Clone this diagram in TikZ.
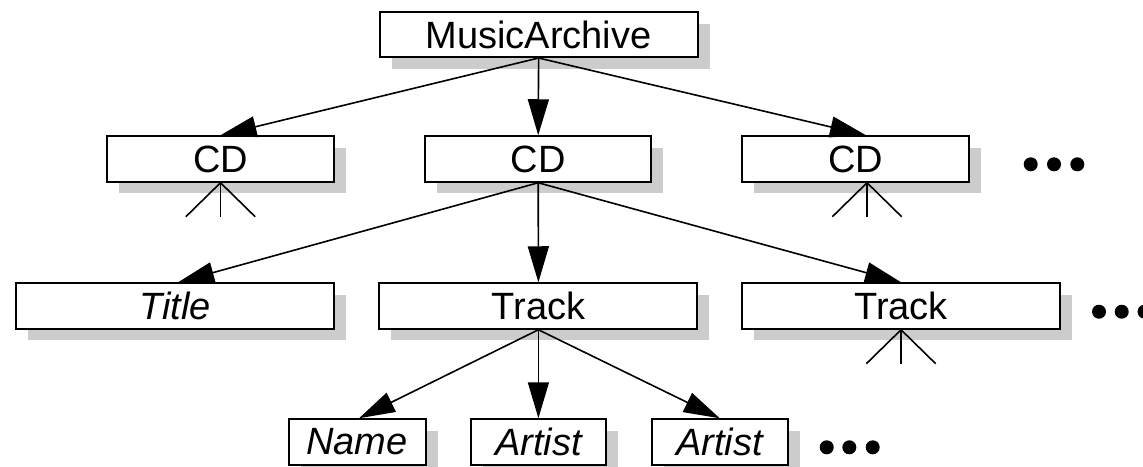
\documentclass[tikz,border=0pt]{standalone}
\usepackage{fontspec}
\setmainfont{Liberation Sans}
\usetikzlibrary{arrows.meta,shadows}
\begin{document}
\begin{tikzpicture}[x=0.5pt,y=-0.5pt,
  box/.style={draw=black, line width=1pt, fill=white, inner sep=0pt,
    minimum height=22.75pt, font=\fontsize{19pt}{22pt}\selectfont,
    drop shadow={shadow xshift=6pt, shadow yshift=-5.75pt, fill=black!20, opacity=1}},
  conn/.style={line width=0.8pt, -{Triangle[length=18pt,width=10.5pt]}},
  fanline/.style={line width=0.8pt},
  dotmark/.style={circle, fill=black, draw=none, inner sep=0pt, minimum size=7pt}]
\fill[white] (0,0) rectangle (1143,466);
\useasboundingbox (0,0) rectangle (1143,466);

% boxes
\node[box, minimum width=159pt, minimum height=22.5pt] (ma) at (538.6,34.5) {MusicArchive};
\node[box, minimum width=113.5pt] (cd1) at (220.5,159) {CD};
\node[box, minimum width=113.25pt] (cd2) at (538.2,159) {CD};
\node[box, minimum width=113.5pt] (cd3) at (855.5,159) {CD};
\node[box, minimum width=158.75pt] (title) at (175.2,306) {\itshape Title};
\node[box, minimum width=159pt] (track1) at (538.4,306) {Track};
\node[box, minimum width=159pt] (track2) at (901,306) {Track};
\node[box, minimum width=68.5pt] (name) at (357,442) {\itshape Name};
\node[box, minimum width=67.75pt] (artist1) at (538.4,442) {\itshape Artist};
\node[box, minimum width=68pt] (artist2) at (719.7,442) {\itshape Artist};

% connectors
\draw[conn] (ma.south) -- (cd1.north);
\draw[conn] (ma.south) -- (cd2.north);
\draw[conn] (ma.south) -- ([xshift=5.25pt]cd3.north);
\draw[conn] (cd2.south) -- ([xshift=1.5pt]title.north);
\draw[conn] (cd2.south) -- (track1.north);
\draw[conn] (cd2.south) -- (track2.north);
\draw[conn] (track1.south) -- ([xshift=1pt]name.north);
\draw[conn] (track1.south) -- (artist1.north);
\draw[conn] (track1.south) -- (artist2.north);

% fans
\coordinate (f1) at (cd1.south);
\coordinate (f2) at ([xshift=5.75pt]cd3.south);
\coordinate (f3) at (track2.south);
\foreach \f in {f1,f2,f3}{
  \foreach \dx in {-34.7,0,34.7}
    \draw[fanline] (\f) -- +(\dx,34);
}

% dots
\node[dotmark] (d1a) at (1030.7,164.3) {};
\node[dotmark] (d1b) at (1054,164.3) {};
\node[dotmark] (d1c) at (1077.3,164.3) {};
\node[dotmark] (d2a) at (1099,311.7) {};
\node[dotmark] (d2b) at (1121.7,311.7) {};
\node[dotmark] (d2c) at (1144.5,311.7) {};
\node[dotmark] (d3a) at (826.7,447.3) {};
\node[dotmark] (d3b) at (849.3,447.3) {};
\node[dotmark] (d3c) at (872.7,447.3) {};
\end{tikzpicture}
\end{document}
